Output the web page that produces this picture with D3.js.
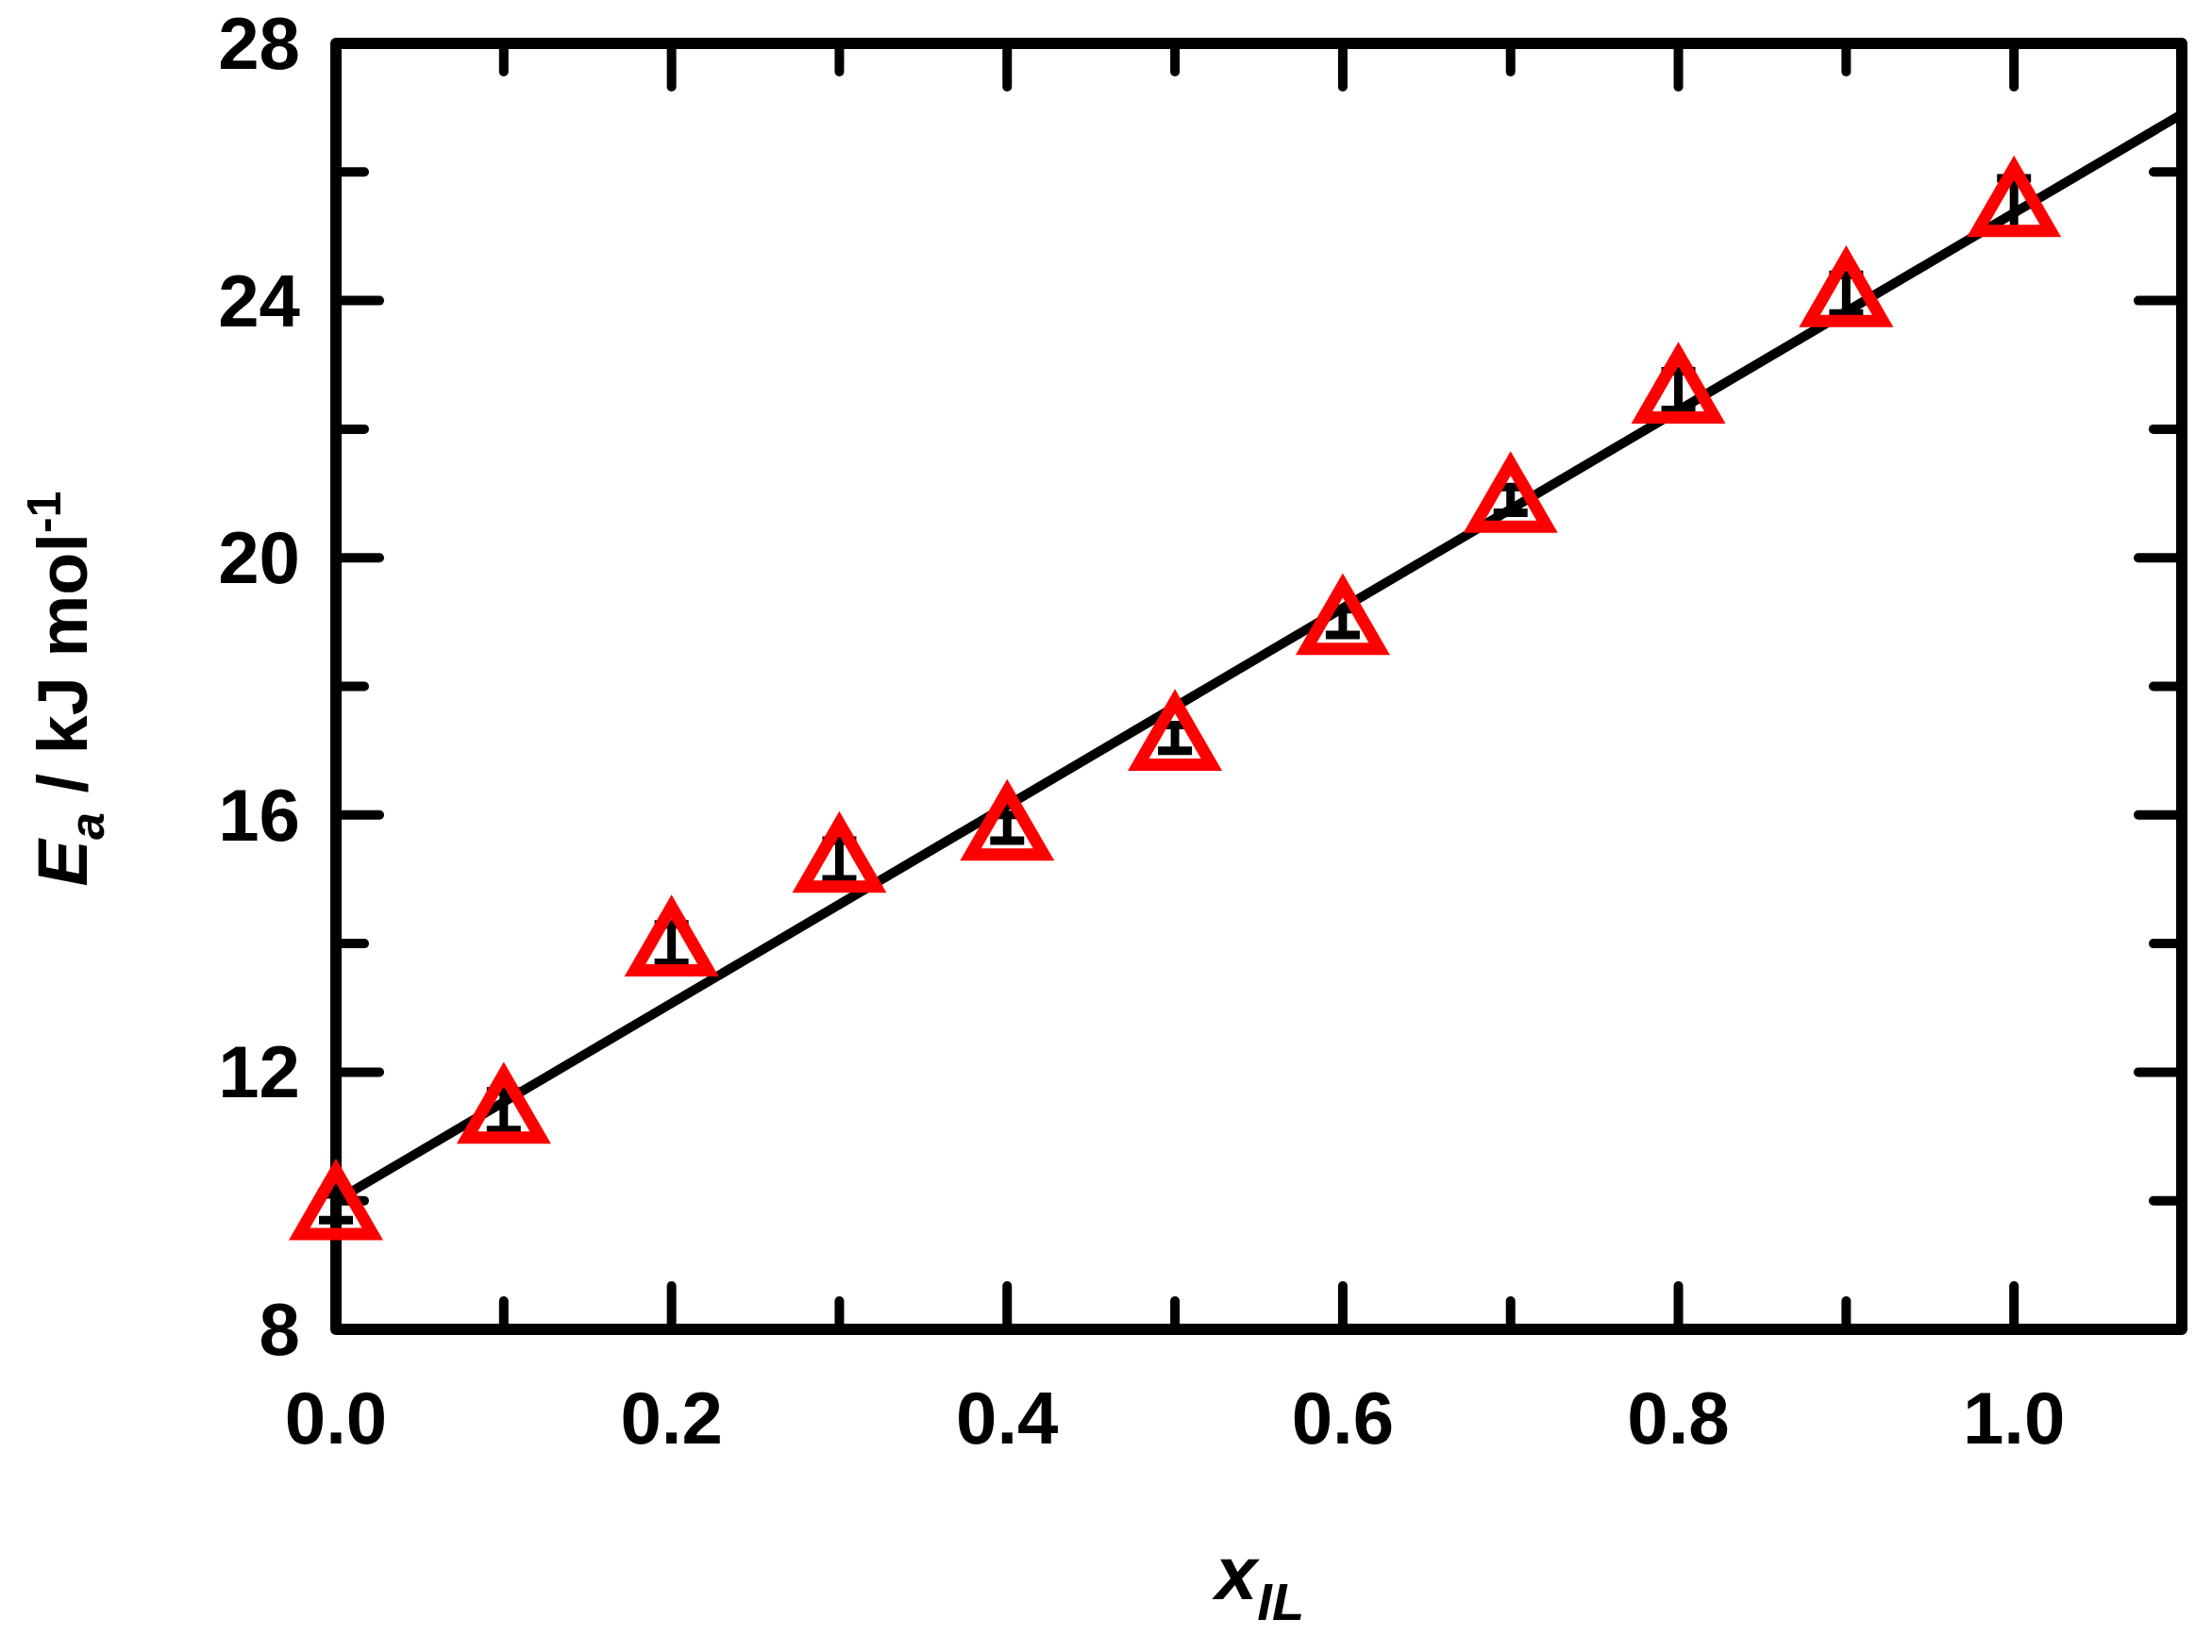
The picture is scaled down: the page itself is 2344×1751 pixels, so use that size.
<!DOCTYPE html>
<html><head><meta charset="utf-8">
<script src="https://cdn.jsdelivr.net/npm/d3@7"></script>
<style>body{margin:0;background:#fff}</style></head>
<body><svg id="c" width="2344" height="1751"></svg>
<script>
const xVals = [0.0,0.1,0.2,0.3,0.4,0.5,0.6,0.7,0.8,0.9,1.0];
const eaVals = [9.9,11.4,14.0,15.3,15.8,17.2,19.0,20.9,22.6,24.1,25.5];
const errVals = [0.2,0.3,0.3,0.3,0.2,0.2,0.2,0.2,0.3,0.3,0.4];
const fitX = [0,1.1];
const fitY = [10.0,26.9];
const xTickLabels = ["0.0","0.2","0.4","0.6","0.8","1.0"];
const yTickLabels = ["8","12","16","20","24","28"];

const svg = d3.select("#c");
const L=356,R=2312,T=46,B=1409;
const x = d3.scaleLinear().domain([0,1.1]).range([L,R]);
const y = d3.scaleLinear().domain([8,28]).range([B,T]);
const font = "'Liberation Sans', Arial, sans-serif";

const g = svg.append("g").attr("stroke","#000").attr("stroke-width",10).attr("stroke-linecap","round");
d3.range(0,11).forEach(i=>{
  const v=i/10, len = i%2===0?46:30, px=x(v);
  g.append("line").attr("x1",px).attr("x2",px).attr("y1",B).attr("y2",B-len);
  g.append("line").attr("x1",px).attr("x2",px).attr("y1",T).attr("y2",T+len);
});
d3.range(8,29,2).forEach(v=>{
  const len = v%4===0?46:30, py=y(v);
  g.append("line").attr("x1",L).attr("x2",L+len).attr("y1",py).attr("y2",py);
  g.append("line").attr("x1",R).attr("x2",R-len).attr("y1",py).attr("y2",py);
});
svg.append("rect").attr("x",L).attr("y",T).attr("width",R-L).attr("height",B-T)
  .attr("fill","none").attr("stroke","#000").attr("stroke-width",12).attr("stroke-linejoin","round");

svg.append("g").selectAll("text").data(xTickLabels).join("text")
  .attr("x",d=>x(+d)).attr("y",1530).attr("text-anchor","middle")
  .attr("font-family",font).attr("font-weight","bold").attr("font-size",78).text(d=>d);
svg.append("g").selectAll("text").data(yTickLabels).join("text")
  .attr("x",318).attr("y",d=>y(+d)+27).attr("text-anchor","end")
  .attr("font-family",font).attr("font-weight","bold").attr("font-size",78).text(d=>d);

const xt = svg.append("text").attr("x",1335).attr("y",1695).attr("text-anchor","middle")
  .attr("font-family",font).attr("font-weight","bold").attr("font-style","italic").attr("font-size",80);
xt.append("tspan").text("x");
xt.append("tspan").attr("font-size",56).attr("dy",22).text("IL");
const yt = svg.append("text").attr("transform","translate(92,730) rotate(-90)").attr("text-anchor","middle")
  .attr("font-family",font).attr("font-weight","bold").attr("font-size",74);
yt.append("tspan").attr("font-style","italic").text("E");
yt.append("tspan").attr("font-style","italic").attr("font-size",52).attr("dy",18).text("a");
yt.append("tspan").attr("dy",-18).text(" / kJ mol");
yt.append("tspan").attr("font-size",50).attr("dy",-28).text("-1");

svg.append("line").attr("x1",x(fitX[0])).attr("y1",y(fitY[0])).attr("x2",x(fitX[1])).attr("y2",y(fitY[1]))
  .attr("stroke","#000").attr("stroke-width",10);

const data = xVals.map((v,i)=>({x:v,y:eaVals[i],e:errVals[i]}));
const eb = svg.append("g").attr("stroke","#000").attr("stroke-width",9);
data.forEach(d=>{
  const px=x(d.x);
  eb.append("line").attr("x1",px).attr("x2",px).attr("y1",y(d.y+d.e)).attr("y2",y(d.y-d.e));
  eb.append("line").attr("x1",px-18).attr("x2",px+18).attr("y1",y(d.y+d.e)).attr("y2",y(d.y+d.e));
  eb.append("line").attr("x1",px-18).attr("x2",px+18).attr("y1",y(d.y-d.e)).attr("y2",y(d.y-d.e));
});
const tri = d3.symbol().type(d3.symbolTriangle);
svg.append("g").selectAll("path.r").data(data).join("path")
  .attr("transform",d=>`translate(${x(d.x)},${y(d.y)+6})`)
  .attr("d",tri.size(2600)()).attr("fill","none").attr("stroke","#ff0000").attr("stroke-width",13);
</script></body></html>
